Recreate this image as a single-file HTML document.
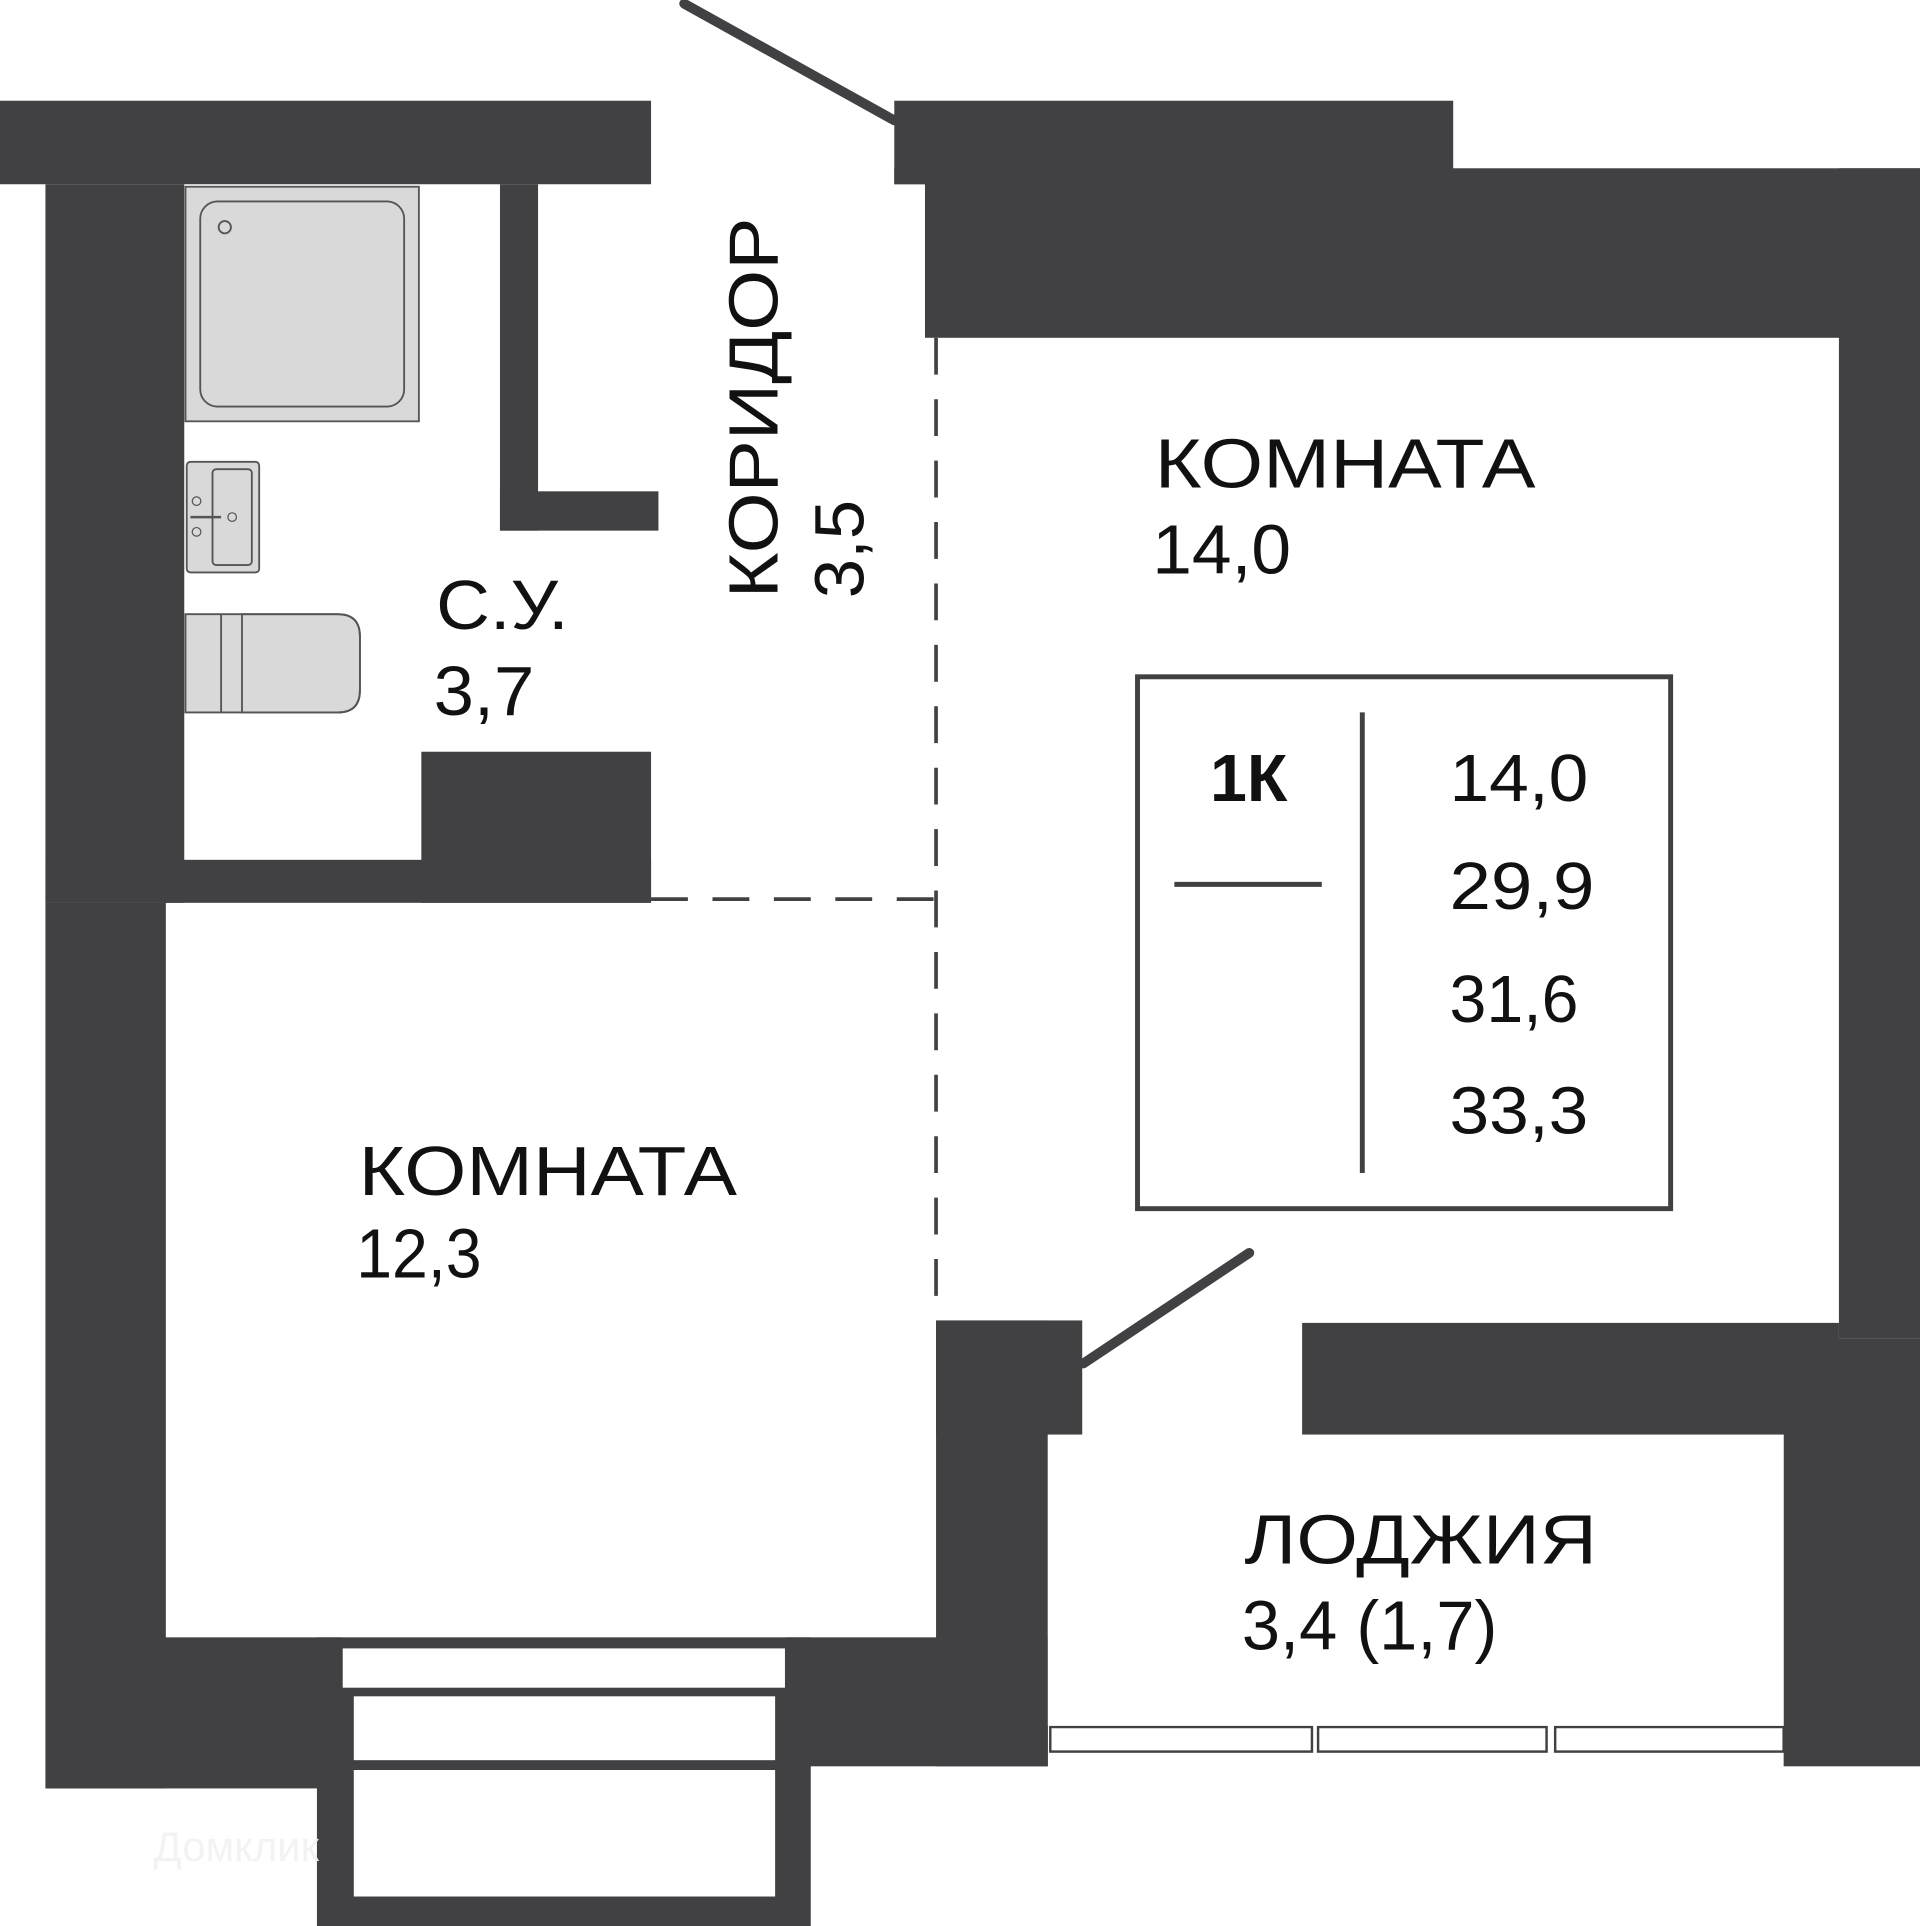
<!DOCTYPE html>
<html><head><meta charset="utf-8"><style>
html,body{margin:0;padding:0;background:#fff;}
svg{display:block;}
text{font-family:"Liberation Sans","DejaVu Sans",sans-serif;fill:#111;}
</style></head><body>
<svg width="1920" height="1926" viewBox="0 0 1563 1568" preserveAspectRatio="none" xmlns="http://www.w3.org/2000/svg">
<rect width="1563" height="1568" fill="#fff"/>
<g fill="#414143">
<rect x="0" y="82" width="530" height="68"/>
<rect x="37" y="150" width="113" height="585"/>
<rect x="37" y="700" width="493" height="35"/>
<rect x="37" y="735" width="98" height="721"/>
<rect x="37" y="1333" width="241" height="123"/>
<rect x="258" y="1333" width="402" height="235"/>
<rect x="640" y="1333" width="213" height="105"/>
<rect x="762" y="1075" width="91" height="363"/>
<rect x="762" y="1075" width="119" height="93"/>
<rect x="407" y="150" width="31" height="282"/>
<rect x="407" y="400" width="129" height="32"/>
<rect x="343" y="612" width="187" height="123"/>
<rect x="728" y="82" width="455" height="68"/>
<rect x="753" y="137" width="810" height="138"/>
<rect x="728" y="137" width="25" height="13"/>
<rect x="1497" y="137" width="66" height="953"/>
<rect x="1452" y="1090" width="111" height="348"/>
<rect x="1060" y="1077" width="437" height="91"/>
</g>
<g fill="#fff" stroke="#414143" stroke-width="2">
<rect x="278" y="1341" width="362" height="34"/>
<rect x="287" y="1380" width="345" height="54"/>
<rect x="287" y="1440" width="345" height="105"/>
<rect x="855" y="1406" width="213" height="20"/>
<rect x="1073" y="1406" width="186" height="20"/>
<rect x="1266" y="1406" width="186" height="20"/>
</g>
<rect x="853" y="1168" width="599" height="237" fill="#fff"/>
<line x1="557" y1="3" x2="728" y2="98" stroke="#414143" stroke-width="8" stroke-linecap="round"/>
<line x1="882" y1="1110" x2="1017" y2="1020" stroke="#414143" stroke-width="8" stroke-linecap="round"/>
<line x1="762" y1="275" x2="762" y2="1075" stroke="#414143" stroke-width="3" stroke-dasharray="30,20"/>
<line x1="530" y1="732" x2="762" y2="732" stroke="#414143" stroke-width="3" stroke-dasharray="30,20"/>
<rect x="151" y="152" width="190" height="191" fill="#d9d9d9" stroke="#555" stroke-width="1.5"/>
<rect x="163" y="164" width="166" height="167" rx="14" fill="#d9d9d9" stroke="#555" stroke-width="1.5"/>
<circle cx="183" cy="185" r="5" fill="none" stroke="#555" stroke-width="1.5"/>
<rect x="152" y="376" width="59" height="90" rx="3" fill="#d9d9d9" stroke="#555" stroke-width="1.5"/>
<rect x="173" y="382" width="32" height="78" rx="3" fill="#d9d9d9" stroke="#555" stroke-width="1.5"/>
<circle cx="160" cy="408" r="3.5" fill="none" stroke="#555"/><circle cx="160" cy="433" r="3.5" fill="none" stroke="#555"/><circle cx="189" cy="421" r="3.5" fill="none" stroke="#555"/>
<line x1="155" y1="421" x2="180" y2="421" stroke="#555" stroke-width="2"/>
<path d="M151,500 H275 Q293,500 293,518 V562 Q293,580 275,580 H151 Z" fill="#d9d9d9" stroke="#555" stroke-width="1.5"/>
<line x1="180" y1="500" x2="180" y2="580" stroke="#555" stroke-width="1.5"/>
<path d="M197,500 H275 Q293,500 293,518 V562 Q293,580 275,580 H197 Z" fill="none" stroke="#555" stroke-width="1.5"/>
<rect x="926" y="551" width="434" height="433" fill="#fff" stroke="#414143" stroke-width="4"/>
<line x1="1109" y1="580" x2="1109" y2="955" stroke="#414143" stroke-width="4"/>
<line x1="956" y1="720" x2="1076" y2="720" stroke="#414143" stroke-width="4"/>
<text x="985" y="652" font-size="54" font-weight="bold" textLength="63" lengthAdjust="spacingAndGlyphs">1К</text>
<g font-size="54">
<text x="1180" y="652" textLength="113" lengthAdjust="spacingAndGlyphs">14,0</text>
<text x="1180" y="740" textLength="118" lengthAdjust="spacingAndGlyphs">29,9</text>
<text x="1180" y="832" textLength="105" lengthAdjust="spacingAndGlyphs">31,6</text>
<text x="1180" y="923" textLength="113" lengthAdjust="spacingAndGlyphs">33,3</text>
</g>
<g font-size="57">
<text x="940" y="397" textLength="310" lengthAdjust="spacingAndGlyphs">КОМНАТА</text>
<text x="938" y="467" textLength="113" lengthAdjust="spacingAndGlyphs">14,0</text>
<text x="355" y="512" textLength="108" lengthAdjust="spacingAndGlyphs">С.У.</text>
<text x="353" y="582" textLength="82" lengthAdjust="spacingAndGlyphs">3,7</text>
<text x="292" y="973" textLength="308" lengthAdjust="spacingAndGlyphs">КОМНАТА</text>
<text x="290" y="1040" textLength="102" lengthAdjust="spacingAndGlyphs">12,3</text>
<text x="1013" y="1273" textLength="287" lengthAdjust="spacingAndGlyphs">ЛОДЖИЯ</text>
<text x="1011" y="1343" textLength="208" lengthAdjust="spacingAndGlyphs">3,4 (1,7)</text>
<text transform="translate(633,487) rotate(-90)" textLength="310" lengthAdjust="spacingAndGlyphs">КОРИДОР</text>
<text transform="translate(703,487) rotate(-90)" textLength="80" lengthAdjust="spacingAndGlyphs">3,5</text>
</g>
<text x="125" y="1515" font-size="34" style="fill:#f3f3f3">Домклик</text>
</svg>
</body></html>
